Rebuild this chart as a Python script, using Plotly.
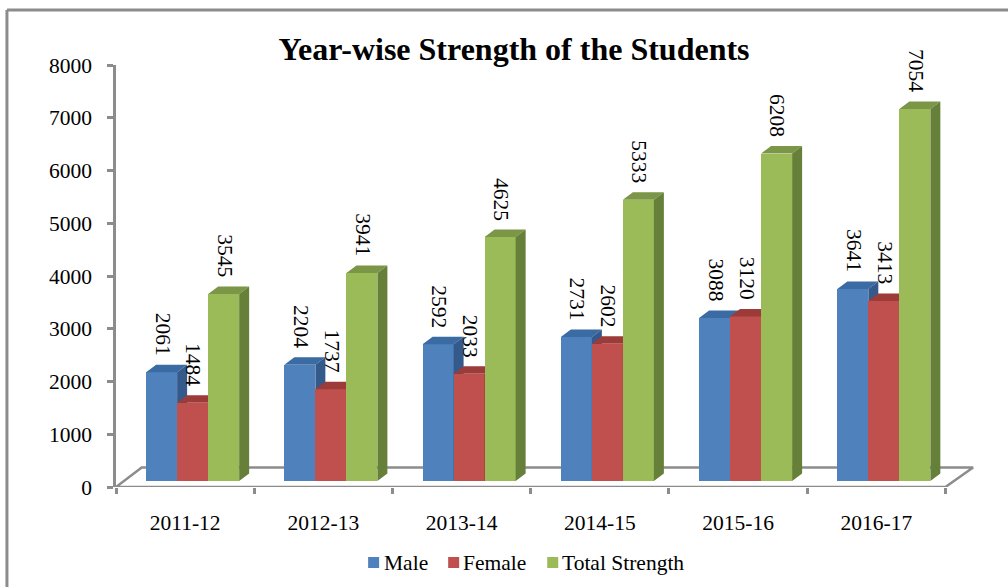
import plotly.graph_objects as go

categories = ["2011-12", "2012-13", "2013-14", "2014-15", "2015-16", "2016-17"]
male = [2061, 2204, 2592, 2731, 3088, 3641]
female = [1484, 1737, 2033, 2602, 3120, 3413]
total_strength = [3545, 3941, 4625, 5333, 6208, 7054]
y_ticks = [0, 1000, 2000, 3000, 4000, 5000, 6000, 7000, 8000]

series = [
    ("Male", male, "#4F81BD", "#3A6BA3", "#335A8A"),
    ("Female", female, "#C0504D", "#9C3B38", "#8E3432"),
    ("Total Strength", total_strength, "#9BBB59", "#7A9646", "#66803A"),
]

FONT = "Liberation Serif"
FS = 21.5
AXIS = "#8C8C8C"
W = 1008
H = 587
CAT_PX = 138.17
n = len(categories)
X_MAX = n + 0.25
L, T, B = 116, 65, 487
R = L + X_MAX * CAT_PX
BAR_W = 31 / CAT_PX
GROUP_SHIFT = 7.5 / CAT_PX
DEPTH_X = 10 / CAT_PX
DEPTH_Y = 142
BASE = 114
FLOOR_X = 0.186
FLOOR_Y = 370
xrange_ = [0, X_MAX]
yrange_ = [0, 8000]


def px_x(p):
    return (p - L) / (R - L)


def px_y(p):
    return (B - p) / (B - T)


fig = go.Figure()

# closed floor outline on the main axes
fig.add_trace(go.Scatter(
    x=[0, FLOOR_X, n + 0.2, n, 0], y=[0, FLOOR_Y, FLOOR_Y, 0, 0],
    mode="lines", line=dict(color=AXIS, width=2.5), cliponaxis=False,
    showlegend=False, hoverinfo="skip", xaxis="x", yaxis="y",
))

for j, (name, vals, front, top, side) in enumerate(series):
    ax = j + 2
    xs = [i + 0.5 + GROUP_SHIFT + (j - 1) * BAR_W for i in range(n)]
    fig.add_trace(go.Bar(
        x=xs, y=vals, base=BASE, width=BAR_W, name=name,
        marker=dict(color=front, line=dict(width=0)), showlegend=False,
        xaxis=f"x{ax}", yaxis=f"y{ax}",
    ))
    tx, ty, sx, sy = [], [], [], []
    for x, v in zip(xs, vals):
        lft, rgt = x - BAR_W / 2, x + BAR_W / 2
        h = v + BASE
        tx += [lft, rgt, rgt + DEPTH_X, lft + DEPTH_X, lft, None]
        ty += [h, h, h + DEPTH_Y, h + DEPTH_Y, h, None]
        sx += [rgt, rgt + DEPTH_X, rgt + DEPTH_X, rgt, rgt, None]
        sy += [BASE, BASE + DEPTH_Y, h + DEPTH_Y, h, BASE, None]
    for px, py, c in ((tx, ty, top), (sx, sy, side)):
        fig.add_trace(go.Scatter(
            x=px, y=py, mode="lines", fill="toself", fillcolor=c,
            line=dict(width=0, color=c), showlegend=False, hoverinfo="skip",
            xaxis=f"x{ax}", yaxis=f"y{ax}",
        ))

annotations = []
for j, (name, vals, *_rest) in enumerate(series):
    for i, v in enumerate(vals):
        annotations.append(dict(
            x=i + 0.5 + GROUP_SHIFT + (j - 1) * BAR_W, y=v + BASE + DEPTH_Y,
            xref="x", yref="y", text=str(v), textangle=90, showarrow=False,
            xanchor="center", yanchor="bottom", yshift=7, xshift=1,
            font=dict(family=FONT, size=FS, color="black"),
        ))

shapes = [
    dict(type="line", xref="paper", yref="paper", x0=px_x(7), x1=px_x(W), y0=px_y(10), y1=px_y(10),
         line=dict(color=AXIS, width=3)),
    dict(type="line", xref="paper", yref="paper", x0=px_x(7), x1=px_x(7), y0=px_y(10), y1=px_y(H),
         line=dict(color=AXIS, width=3)),
]

# legend: swatch left edges and label starts as in the reference
for (name, vals, front, top, side), sw, tx_ in zip(series, (368, 448, 547), (384, 463, 562)):
    shapes.append(dict(type="rect", xref="paper", yref="paper", x0=px_x(sw), x1=px_x(sw + 11),
                       y0=px_y(557), y1=px_y(568), fillcolor=front, line=dict(width=0)))
    annotations.append(dict(x=px_x(tx_), y=px_y(563), xref="paper", yref="paper", text=name, showarrow=False,
                            xanchor="left", yanchor="middle", borderpad=0, borderwidth=0,
                            font=dict(family=FONT, size=FS, color="black")))

hidden = dict(visible=False, fixedrange=True)
layout_axes = {}
for ax in (3, 4):
    layout_axes[f"xaxis{ax}"] = dict(range=xrange_, overlaying="x", anchor=f"y{ax}", **hidden)
    layout_axes[f"yaxis{ax}"] = dict(range=yrange_, overlaying="y", anchor=f"x{ax}", **hidden)

fig.update_layout(
    width=W, height=H,
    margin=dict(l=L, r=W - R, t=T, b=H - B, pad=0),
    paper_bgcolor="white", plot_bgcolor="rgba(0,0,0,0)",
    barmode="overlay", bargap=0, showlegend=False,
    title=dict(text="<b>Year-wise Strength of the Students</b>", x=514 / W, xref="container",
               xanchor="center", y=1 - 49 / H, yanchor="middle",
               font=dict(family=FONT, size=32, color="black")),
    xaxis=dict(range=xrange_, tickmode="array", tickvals=list(range(n + 1)), ticktext=[""] * (n + 1),
               ticks="outside", ticklen=6, tickwidth=2.5, tickcolor=AXIS, showline=False,
               showgrid=False, zeroline=False, fixedrange=True),
    yaxis=dict(range=yrange_, tickmode="array", tickvals=y_ticks, ticks="outside", ticklen=6, tickwidth=2.5,
               tickcolor=AXIS, showline=True, linecolor=AXIS, linewidth=2.5, showgrid=False, zeroline=False,
               fixedrange=True, ticklabelstandoff=11,
               tickfont=dict(family=FONT, size=FS, color="black")),
    xaxis2=dict(range=xrange_, overlaying="x", anchor="y2", tickmode="array",
                tickvals=[i + 0.5 for i in range(n)], ticktext=categories, ticks="",
                showline=False, showgrid=False, zeroline=False, fixedrange=True, ticklabelstandoff=20,
                tickfont=dict(family=FONT, size=FS, color="black")),
    yaxis2=dict(range=yrange_, overlaying="y", anchor="x2", **hidden),
    annotations=annotations,
    shapes=shapes,
    **layout_axes,
)

fig.write_html("out.html", config={"displayModeBar": False},
               post_script="document.body.style.margin='0';document.body.style.overflow='hidden';")
